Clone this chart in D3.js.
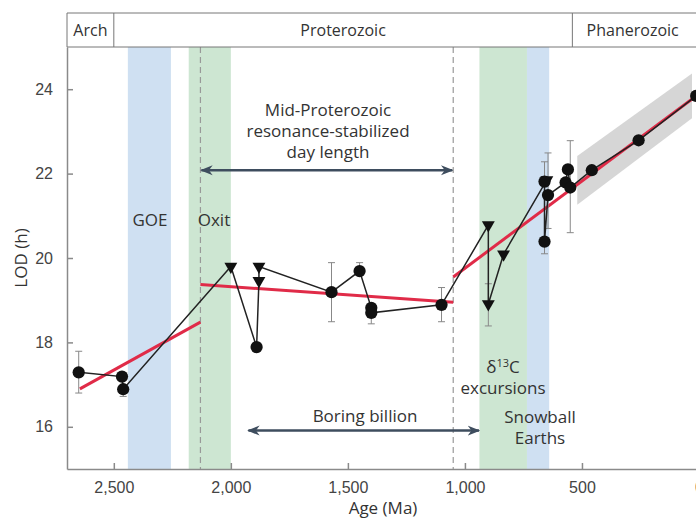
<!DOCTYPE html>
<html>
<head>
<meta charset="utf-8">
<style>
  body { margin: 0; background: #fff; overflow: hidden; }
  svg { font-family: "Open Sans", sans-serif; }
  .axis text { font-size: 16px; fill: #444; }
  .axis path, .axis line { stroke: #8a8a8a; stroke-width: 1.5px; }
  .label { font-size: 16px; fill: #333; }
  .note { font-size: 17px; fill: #333; }
  .fit { fill: none; stroke: #e02b48; stroke-width: 3px; }
  .track { fill: none; stroke: #222; stroke-width: 1.5px; }
  .err { stroke: #888; stroke-width: 1px; }
  .guide { stroke: #999; stroke-width: 1.2px; stroke-dasharray: 6,4; }
  .arrow { stroke: #3e4d5e; stroke-width: 2.5px; }
</style>
</head>
<body>
<svg id="chart"></svg>
<script src="https://cdn.jsdelivr.net/npm/d3@7"></script>
<script>
// ---- data ----
var ages    = [2650, 2465, 2460, 2000, 1890, 1880, 1880, 1570, 1450, 1400, 1400, 1100, 900, 900, 835, 650, 660, 660, 645, 570, 560, 550, 458, 258, 12];
var lods    = [17.29, 17.19, 16.89, 19.80, 17.89, 19.46, 19.80, 19.19, 19.69, 18.82, 18.70, 18.89, 20.78, 18.91, 20.09, 21.85, 21.81, 20.39, 21.49, 21.79, 22.10, 21.67, 22.08, 22.79, 23.84];
var markers = ['c','c','c','t','c','t','t','c','c','c','c','c','t','t','t','t','c','c','c','c','c','c','c','c','c'];
var errLo   = [16.80, null, 16.72, null, null, null, null, 18.49, 19.69, 18.44, null, 18.49, null, 18.39, null, null, 20.10, null, 20.70, null, null, 20.60, null, null, null];
var errHi   = [17.79, null, 16.89, null, null, null, null, 19.89, 19.89, 18.82, null, 19.30, null, 19.39, null, null, 22.28, null, 22.49, null, null, 22.78, null, null, null];

var fitAge = [[2645, 2130], [2130, 1050], [1050, 0]];
var fitLod = [[16.90, 18.48], [19.37, 18.95], [19.55, 23.89]];

var bandAge = [520, 30];
var bandLo  = [21.26, 23.31];
var bandHi  = [22.42, 24.37];

var eventStart = [2440, 2180, 938, 735];
var eventEnd   = [2256, 2000, 735, 640];
var eventColor = ['#cfe0f2', '#cde6d2', '#cde6d2', '#cfe0f2'];

var eraNames = ['Arch', 'Proterozoic', 'Phanerozoic'];
var eraStart = [2700, 2500, 541];
var eraEnd   = [2500, 541, -5];

var guideAges = [2130, 1050];
var xTicks = [2500, 2000, 1500, 1000, 500, 0];
var yTicks = [16, 18, 20, 22, 24];

// ---- layout ----
var width = 696, height = 520;
var svg = d3.select('#chart').attr('width', width).attr('height', height);

var x = d3.scaleLinear().domain([2700, 0]).range([67, 699]);
var y = d3.scaleLinear().domain([15, 25]).range([469, 47]);

// event bands
svg.selectAll('rect.event').data(eventStart).enter().append('rect')
  .attr('x', function(d, i){ return x(d); })
  .attr('width', function(d, i){ return x(eventEnd[i]) - x(d); })
  .attr('y', y(25)).attr('height', y(15) - y(25))
  .attr('fill', function(d, i){ return eventColor[i]; });

// dashed guides
svg.selectAll('line.guide').data(guideAges).enter().append('line')
  .attr('class', 'guide')
  .attr('x1', function(d){ return x(d); }).attr('x2', function(d){ return x(d); })
  .attr('y1', y(25)).attr('y2', y(15));

// gray confidence band
var area = d3.area()
  .x(function(d, i){ return x(d); })
  .y0(function(d, i){ return y(bandLo[i]); })
  .y1(function(d, i){ return y(bandHi[i]); });
svg.append('path').datum(bandAge).attr('d', area).attr('fill', '#d6d6d6');

// axes
var xAxis = d3.axisBottom(x).tickValues(xTicks).tickSizeInner(-6).tickSizeOuter(0)
  .tickPadding(13).tickFormat(d3.format(','));
svg.append('g').attr('class', 'axis').attr('transform', 'translate(0,' + y(15) + ')').call(xAxis);
var yAxis = d3.axisLeft(y).tickValues(yTicks).tickSizeInner(-6).tickSizeOuter(0).tickPadding(14);
svg.append('g').attr('class', 'axis').attr('transform', 'translate(' + x(2700) + ',0)').call(yAxis);

svg.append('text').attr('class', 'note').attr('x', 383).attr('y', 514)
  .attr('text-anchor', 'middle').text('Age (Ma)');
svg.append('text').attr('class', 'note')
  .attr('transform', 'translate(27,258) rotate(-90)')
  .attr('text-anchor', 'middle').text('LOD (h)');

// era header
var headTop = 13, headH = 34;
svg.append('line').attr('x1', x(2700)).attr('x2', width).attr('y1', headTop).attr('y2', headTop).attr('stroke', '#777');
svg.append('line').attr('x1', x(2700)).attr('x2', width).attr('y1', headTop + headH).attr('y2', headTop + headH).attr('stroke', '#777');
svg.selectAll('line.era').data(eraStart).enter().append('line')
  .attr('x1', function(d){ return x(d); }).attr('x2', function(d){ return x(d); })
  .attr('y1', headTop).attr('y2', headTop + headH).attr('stroke', '#777');
svg.selectAll('text.era').data(eraNames).enter().append('text')
  .attr('class', 'label')
  .attr('x', function(d, i){ return (x(eraStart[i]) + Math.min(x(eraEnd[i]), width - 3)) / 2; })
  .attr('y', headTop + headH / 2 + 6)
  .attr('text-anchor', 'middle')
  .text(function(d){ return d; });

// arrows
var defs = svg.append('defs');
defs.append('marker').attr('id', 'head').attr('viewBox', '0 0 10 10')
  .attr('refX', 9).attr('refY', 5).attr('markerWidth', 5).attr('markerHeight', 5)
  .attr('orient', 'auto-start-reverse')
  .append('path').attr('d', 'M0,1 L10,5 L0,9 L3,5 Z').attr('fill', '#3e4d5e');
svg.append('line').attr('class', 'arrow')
  .attr('x1', x(2130) + 1).attr('x2', x(1050) - 1).attr('y1', y(22.08)).attr('y2', y(22.08))
  .attr('marker-start', 'url(#head)').attr('marker-end', 'url(#head)');
svg.append('line').attr('class', 'arrow')
  .attr('x1', x(1925)).attr('x2', x(940)).attr('y1', y(15.91)).attr('y2', y(15.91))
  .attr('marker-start', 'url(#head)').attr('marker-end', 'url(#head)');

// annotations
function note(lines, cx, baseline, step) {
  var t = svg.append('text').attr('class', 'note').attr('text-anchor', 'middle');
  lines.forEach(function(s, i){
    t.append('tspan').attr('x', cx).attr('y', baseline + i * step).text(s);
  });
  return t;
}
note(['Mid-Proterozoic', 'resonance-stabilized', 'day length'], 328, 116, 21);
note(['Boring billion'], 365, 422, 0);
note(['GOE'], 150, 226, 0);
note(['Oxit'], 214, 226, 0);
var d13 = svg.append('text').attr('class', 'note').attr('text-anchor', 'middle')
  .attr('x', 503).attr('y', 373);
d13.append('tspan').text('δ');
d13.append('tspan').attr('font-size', '11px').attr('dy', -6).text('13');
d13.append('tspan').attr('dy', 6).text('C');
note(['excursions'], 503, 394, 0);
note(['Snowball', 'Earths'], 540, 423, 21);

// fit lines
svg.selectAll('line.fit').data(fitAge).enter().append('line')
  .attr('class', 'fit')
  .attr('x1', function(d){ return x(d[0]); }).attr('x2', function(d){ return x(d[1]); })
  .attr('y1', function(d, i){ return y(fitLod[i][0]); })
  .attr('y2', function(d, i){ return y(fitLod[i][1]); });

// error bars
var idx = d3.range(ages.length).filter(function(i){ return errLo[i] != null; });
var eb = svg.selectAll('g.err').data(idx).enter().append('g');
eb.append('line').attr('class', 'err')
  .attr('x1', function(i){ return x(ages[i]); }).attr('x2', function(i){ return x(ages[i]); })
  .attr('y1', function(i){ return y(errLo[i]); }).attr('y2', function(i){ return y(errHi[i]); });
[errLo, errHi].forEach(function(arr){
  eb.append('line').attr('class', 'err')
    .attr('x1', function(i){ return x(ages[i]) - 3.5; }).attr('x2', function(i){ return x(ages[i]) + 3.5; })
    .attr('y1', function(i){ return y(arr[i]); }).attr('y2', function(i){ return y(arr[i]); });
});

// data track
var line = d3.line()
  .x(function(d, i){ return x(d); })
  .y(function(d, i){ return y(lods[i]); });
svg.append('path').datum(ages).attr('class', 'track').attr('d', line);

var circle = d3.symbol().type(d3.symbolCircle).size(118);
var tri = d3.symbol().type(d3.symbolTriangle).size(72);
svg.selectAll('path.pt').data(ages).enter().append('path')
  .attr('d', function(d, i){ return markers[i] === 'c' ? circle() : tri(); })
  .attr('transform', function(d, i){
    return 'translate(' + x(d) + ',' + y(lods[i]) + ')' + (markers[i] === 't' ? ' rotate(180)' : '');
  })
  .attr('fill', '#111');
</script>
</body>
</html>
